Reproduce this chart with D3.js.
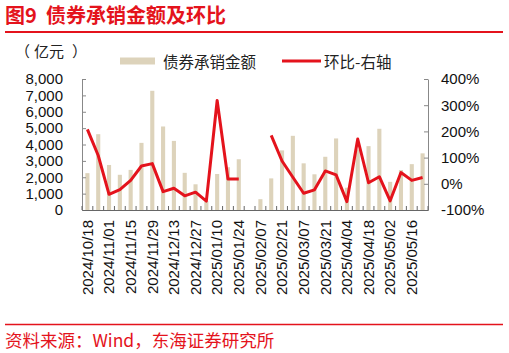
<!DOCTYPE html>
<html>
<head>
<meta charset="utf-8">
<script src="https://cdn.jsdelivr.net/npm/d3@7"></script>
<style>
    body { margin: 0; background: #fff; }
    svg { display: block; }
    text { font-family: "Liberation Sans", Arial, sans-serif; }
    .cjk { font-family: "Noto Sans CJK SC", sans-serif; white-space: pre; }
</style>
</head>
<body>
<svg id="chart" width="509" height="353"></svg>
<script>
// weekly dates (every Friday)
var dates = ['2024/10/18', '2024/10/25', '2024/11/01', '2024/11/08', '2024/11/15', '2024/11/22', '2024/11/29',
    '2024/12/06', '2024/12/13', '2024/12/20', '2024/12/27', '2025/01/03', '2025/01/10', '2025/01/17',
    '2025/01/24', '2025/01/31', '2025/02/07', '2025/02/14', '2025/02/21', '2025/02/28', '2025/03/07',
    '2025/03/14', '2025/03/21', '2025/03/28', '2025/04/04', '2025/04/11', '2025/04/18', '2025/04/25',
    '2025/05/02', '2025/05/09', '2025/05/16', '2025/05/23'];
// 债券承销金额 (亿元)
var amounts = [2250, 4630, 2750, 2150, 2450, 4100, 7280, 5100, 4220, 2270, 1570, 530, 2200, 2610,
    3100, 0, 660, 1930, 3640, 4530, 2850, 2180, 3250, 4370, 1360, 3690, 3900, 4960,
    1720, 2440, 2800, 3460];
// 环比 (%), null = no value
var ratios = [208, 108, -40, -22, 13, 68, 77, -30, -17, -46, -32, -66, 318, 18,
    18, null, null, 185, 87, 25, -36, -23, 49, 34, -68, 171, 4, 27,
    -65, 43, 13, 24];
var leftTicks = [0, 1000, 2000, 3000, 4000, 5000, 6000, 7000, 8000];
var rightTicks = [-100, 0, 100, 200, 300, 400];
var labelDates = dates.filter(function (d, i) { return i % 2 === 0; });

draw();

function draw() {
    var red = '#e4131c';
    var svg = d3.select('#chart');

    var pLeft = 82, pRight = 428, pTop = 79, pBottom = 210;

    var x = d3.scaleBand()
        .domain(dates)
        .range([pLeft, pRight])
        .paddingInner(0.62)
        .paddingOuter(0.31);
    var y = d3.scaleLinear().domain([0, 8000]).range([pBottom, pTop]);
    var yR = d3.scaleLinear().domain([-100, 400]).range([pBottom, pTop]);

    // title
    svg.append('text').attr('class', 'cjk')
        .attr('x', 5).attr('y', 23)
        .style('font-size', '20px').style('font-weight', 'bold')
        .style('fill', red)
        .text('图9  债券承销金额及环比');
    svg.append('line')
        .attr('x1', 5).attr('x2', 503).attr('y1', 32).attr('y2', 32)
        .style('stroke', red).style('stroke-width', 2);

    // unit
    var unit = svg.append('text').attr('class', 'cjk')
        .attr('x', 15).attr('y', 50).attr('dominant-baseline', 'central')
        .style('font-size', '15px').style('fill', '#222');
    unit.append('tspan').text('（');
    unit.append('tspan').attr('dx', 4).text('亿元');
    unit.append('tspan').attr('dx', 8).text('）');

    // legend
    svg.append('rect')
        .attr('x', 120).attr('y', 57.5).attr('width', 35).attr('height', 7)
        .style('fill', '#ddd3bb');
    svg.append('text').attr('class', 'cjk')
        .attr('x', 163).attr('y', 61).attr('dominant-baseline', 'central')
        .style('font-size', '15.5px').style('fill', '#222')
        .text('债券承销金额');
    svg.append('line')
        .attr('x1', 282).attr('x2', 321).attr('y1', 61).attr('y2', 61)
        .style('stroke', red).style('stroke-width', 3);
    svg.append('text').attr('class', 'cjk')
        .attr('x', 324).attr('y', 61).attr('dominant-baseline', 'central')
        .style('font-size', '15.5px').style('fill', '#222')
        .text('环比-右轴');

    // bars
    svg.append('g')
        .selectAll('rect')
        .data(dates)
        .enter().append('rect')
        .attr('x', function (d) { return x(d); })
        .attr('width', x.bandwidth())
        .attr('y', function (d, i) { return y(amounts[i]); })
        .attr('height', function (d, i) { return y(0) - y(amounts[i]); })
        .style('fill', '#ddd3bb');

    // left axis
    var gL = svg.append('g')
        .attr('transform', 'translate(' + pLeft + ',0)')
        .call(d3.axisLeft(y).tickValues(leftTicks).tickFormat(d3.format(','))
            .tickSizeInner(-4).tickSizeOuter(0).tickPadding(19));
    // right axis
    var gR = svg.append('g')
        .attr('transform', 'translate(' + pRight + ',0)')
        .call(d3.axisRight(yR).tickValues(rightTicks).tickFormat(function (d) { return d + '%'; })
            .tickSizeInner(-4).tickSizeOuter(0).tickPadding(13));

    [gL, gR].forEach(function (g) {
        g.select('.domain').style('stroke', '#888');
        g.selectAll('.tick line').style('stroke', '#888');
        g.selectAll('text').style('font-size', '15px').style('fill', '#111')
            .style('font-family', '"Liberation Sans", Arial, sans-serif');
    });

    // bottom axis: ticks at band boundaries
    var step = x.step();
    var bounds = dates.map(function (d) { return x(d) + x.bandwidth() / 2 - step / 2; });
    bounds.push(bounds[bounds.length - 1] + step);
    svg.append('g').selectAll('line')
        .data(bounds)
        .enter().append('line')
        .attr('x1', function (d) { return d; }).attr('x2', function (d) { return d; })
        .attr('y1', pBottom).attr('y2', pBottom - 4)
        .style('stroke', '#666');

    var gB = svg.append('g')
        .attr('transform', 'translate(0,' + pBottom + ')')
        .call(d3.axisBottom(x).tickValues(labelDates).tickSize(0).tickPadding(0));
    gB.select('.domain').style('stroke', '#666');
    gB.selectAll('text')
        .attr('transform', 'rotate(-90)')
        .attr('x', -10).attr('y', 0).attr('dy', '0.35em')
        .style('text-anchor', 'end')
        .style('font-size', '15px').style('fill', '#111')
        .style('font-family', '"Liberation Sans", Arial, sans-serif');

    // ratio line
    var line = d3.line()
        .defined(function (d) { return d !== null; })
        .x(function (d, i) { return x(dates[i]) + x.bandwidth() / 2; })
        .y(function (d) { return yR(d); });
    svg.append('path')
        .datum(ratios)
        .attr('d', line)
        .style('fill', 'none')
        .style('stroke', red)
        .style('stroke-width', 3)
        .style('stroke-linejoin', 'round');

    // footer
    svg.append('line')
        .attr('x1', 5).attr('x2', 503).attr('y1', 324.5).attr('y2', 324.5)
        .style('stroke', red).style('stroke-width', 1.5);
    svg.append('text').attr('class', 'cjk')
        .attr('x', 5).attr('y', 339).attr('dominant-baseline', 'central')
        .style('font-size', '17.5px').style('fill', red)
        .text('资料来源：Wind，东海证券研究所');
}
</script>
</body>
</html>
